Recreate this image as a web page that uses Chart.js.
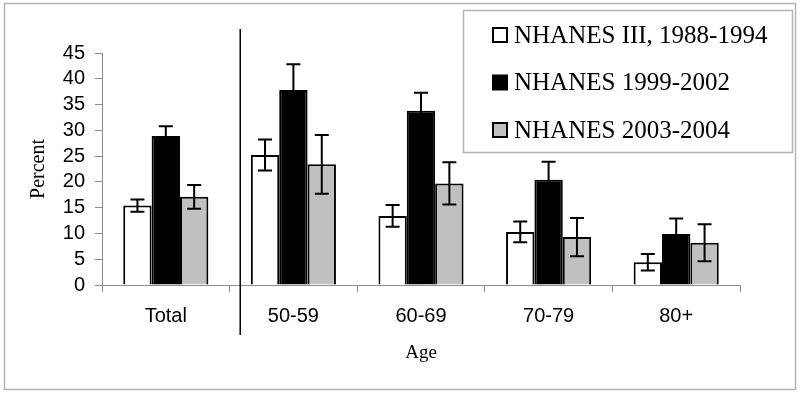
<!DOCTYPE html>
<html>
<head>
<meta charset="utf-8">
<script src="https://cdn.jsdelivr.net/npm/chart.js@4.4.0/dist/chart.umd.min.js"></script>
<style>
  html, body { margin: 0; padding: 0; background: #fff; }
  #wrap { width: 800px; height: 393px; position: relative; }
</style>
</head>
<body>
<div id="wrap"><canvas id="chart" width="800" height="393"></canvas></div>
<script>
const categories = ['Total', '50-59', '60-69', '70-79', '80+'];
const seriesLabels = ['NHANES III, 1988-1994', 'NHANES 1999-2002', 'NHANES 2003-2004'];
const nhanes3 = [15.4, 25.2, 13.4, 10.3, 4.4];
const nhanes9902 = [28.9, 37.8, 33.8, 20.4, 9.9];
const nhanes0304 = [17.1, 23.4, 19.7, 9.3, 8.2];
const err3 = [1.2, 3.0, 2.1, 2.0, 1.6];
const err9902 = [1.9, 5.0, 3.5, 3.5, 3.0];
const err0304 = [2.3, 5.7, 4.1, 3.7, 3.6];
const yTicks = [0, 5, 10, 15, 20, 25, 30, 35, 40, 45];

const fills = ['#ffffff', '#000000', '#c0c0c0'];
const errors = [err3, err9902, err0304];
const axisGray = '#8c8c8c';

const errorBars = {
  id: 'errorBars',
  afterDatasetsDraw(chart) {
    const { ctx, scales: { y } } = chart;
    ctx.save();
    ctx.strokeStyle = '#000';
    ctx.lineWidth = 2;
    chart.data.datasets.forEach((ds, i) => {
      const meta = chart.getDatasetMeta(i);
      meta.data.forEach((bar, j) => {
        const v = ds.data[j], e = errors[i][j];
        const top = y.getPixelForValue(v + e);
        const bot = y.getPixelForValue(v - e);
        const half = 7;
        ctx.beginPath();
        ctx.moveTo(bar.x, top); ctx.lineTo(bar.x, bot);
        ctx.moveTo(bar.x - half, top); ctx.lineTo(bar.x + half, top);
        ctx.moveTo(bar.x - half, bot); ctx.lineTo(bar.x + half, bot);
        ctx.stroke();
      });
    });
    ctx.restore();
  }
};

// frame, separator line and legend box
const extras = {
  id: 'extras',
  beforeDraw(chart) {
    const { ctx } = chart;
    ctx.save();
    ctx.fillStyle = '#fff';
    ctx.fillRect(0, 0, chart.width, chart.height);
    ctx.strokeStyle = '#b4b4b4';
    ctx.lineWidth = 1.5;
    ctx.strokeRect(4.5, 3.5, 791, 386);
    ctx.restore();
  },
  afterDraw(chart) {
    const { ctx, scales: { x } } = chart;
    ctx.save();
    // separator between Total and age groups
    const boundary = (x.getPixelForValue(0) + x.getPixelForValue(1)) / 2;
    const firstBar = chart.getDatasetMeta(0).data[1];
    const sepX = (boundary + firstBar.x - firstBar.width / 2) / 2;
    ctx.strokeStyle = '#000';
    ctx.lineWidth = 1.5;
    ctx.beginPath();
    ctx.moveTo(sepX, 29);
    ctx.lineTo(sepX, 335);
    ctx.stroke();

    // legend
    ctx.fillStyle = '#fff';
    ctx.fillRect(463, 10, 330, 143);
    ctx.strokeStyle = '#b4b4b4';
    ctx.lineWidth = 1.5;
    ctx.strokeRect(463.5, 10.5, 329, 142);
    ctx.font = '25px "Liberation Serif", "Times New Roman", serif';
    ctx.textBaseline = 'middle';
    chart.data.datasets.forEach((ds, i) => {
      const cy = 35 + i * 47.5;
      ctx.fillStyle = ds.backgroundColor;
      ctx.fillRect(493, cy - 7, 14, 14);
      ctx.strokeStyle = '#000';
      ctx.lineWidth = 2;
      ctx.strokeRect(493, cy - 7, 14, 14);
      ctx.fillStyle = '#000';
      ctx.fillText(ds.label, 514, cy + 1);
    });
    ctx.restore();
  }
};

new Chart(document.getElementById('chart'), {
  type: 'bar',
  data: {
    labels: categories,
    datasets: [nhanes3, nhanes9902, nhanes0304].map((d, i) => ({
      label: seriesLabels[i],
      data: d,
      backgroundColor: fills[i],
      borderColor: '#000',
      borderWidth: 2,
      categoryPercentage: 0.667,
      barPercentage: 1.0
    }))
  },
  options: {
    responsive: false,
    animation: false,
    devicePixelRatio: 1,
    layout: { padding: { top: 53, right: 60, left: 0, bottom: 0 } },
    plugins: { legend: { display: false }, tooltip: { enabled: false } },
    scales: {
      x: {
        afterFit: s => { s.height = 108; },
        grid: { drawOnChartArea: false, tickLength: 7, color: axisGray, lineWidth: 1 },
        border: { color: axisGray, width: 1 },
        ticks: { color: '#000', padding: 12, font: { family: '"Liberation Sans", Arial, sans-serif', size: 20 } },
        title: {
          display: true, text: 'Age', color: '#000',
          font: { family: '"Liberation Serif", "Times New Roman", serif', size: 19 },
          padding: { top: 0, bottom: 29 }
        }
      },
      y: {
        min: 0, max: 45,
        afterFit: s => { s.width = 102; },
        afterBuildTicks: s => { s.ticks = yTicks.map(v => ({ value: v })); },
        grid: { drawOnChartArea: false, tickLength: 7, color: axisGray, lineWidth: 1 },
        border: { color: axisGray, width: 1 },
        ticks: { color: '#000', padding: 10, autoSkip: false, font: { family: '"Liberation Sans", Arial, sans-serif', size: 20 } },
        title: {
          display: true, text: 'Percent', color: '#000',
          font: { family: '"Liberation Serif", "Times New Roman", serif', size: 20 },
          padding: { top: 27, bottom: 0 }
        }
      }
    }
  },
  plugins: [extras, errorBars]
});
</script>
</body>
</html>
